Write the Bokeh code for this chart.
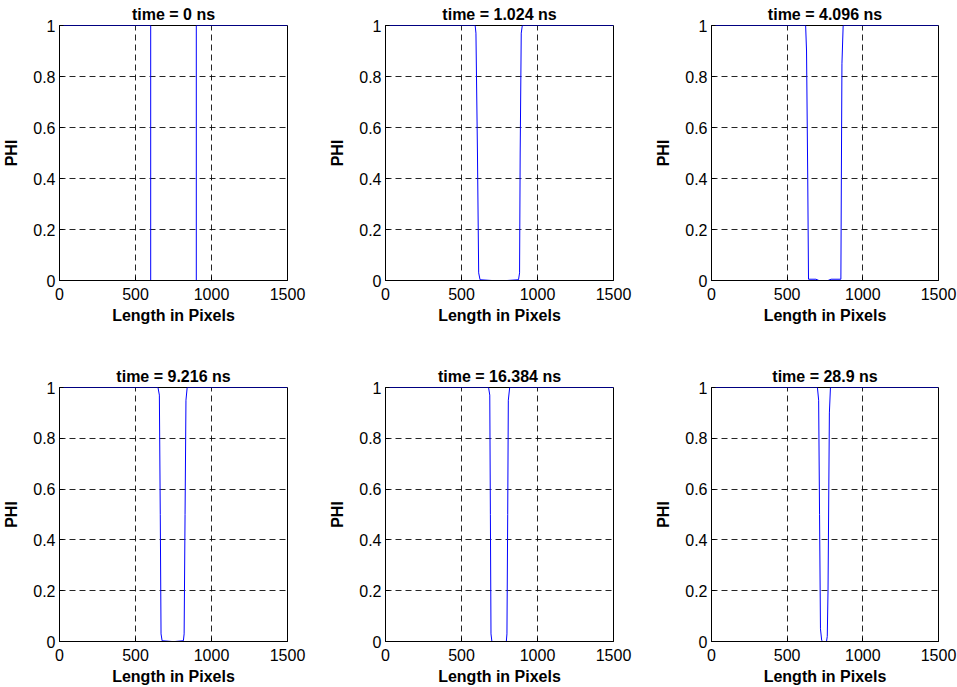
from bokeh.plotting import figure
from bokeh.layouts import column, row
from bokeh.models import Range1d, FixedTicker, CustomJSTickFormatter
from bokeh.embed import file_html
from bokeh.resources import INLINE

# ---- data -------------------------------------------------------------
titles = ["time = 0 ns", "time = 1.024 ns", "time = 4.096 ns",
          "time = 9.216 ns", "time = 16.384 ns", "time = 28.9 ns"]
x_label = "Length in Pixels"
y_label = "PHI"
x_ticks = [0, 500, 1000, 1500]
y_ticks = [0, 0.2, 0.4, 0.6, 0.8, 1]

x_t0 = [0, 600, 600, 900, 900, 1500]
phi_t0 = [1, 1, 0, 0, 1, 1]

x_t1 = [0, 590, 595, 605, 613, 622, 700, 800, 875, 882, 886, 893, 900, 1500]
phi_t1 = [1, 1, 0.97, 0.5, 0.03, 0.003, 0, 0, 0.003, 0.03, 0.5, 0.97, 1, 1]

x_t2 = [0, 622, 628, 636, 641, 690, 710, 770, 790, 855, 858, 862, 870, 1500]
phi_t2 = [1, 1, 0.9, 0.4, 0.005, 0.005, 0, 0, 0.005, 0.005, 0.4, 0.85, 1, 1]

x_t3 = [0, 648, 657, 663, 668, 675, 740, 760, 815, 820, 826, 832, 840, 1500]
phi_t3 = [1, 1, 0.97, 0.5, 0.03, 0.003, 0, 0, 0.003, 0.03, 0.5, 0.95, 1, 1]

x_t4 = [0, 678, 686, 690, 694, 700, 795, 799, 804, 808, 817, 1500]
phi_t4 = [1, 1, 0.97, 0.5, 0.03, 0, 0, 0.03, 0.5, 0.95, 1, 1]

x_t5 = [0, 700, 708, 714, 720, 728, 735, 760, 765, 770, 779, 786, 1500]
phi_t5 = [1, 1, 0.95, 0.5, 0.05, 0.005, 0, 0, 0.02, 0.2, 0.9, 1, 1]

series = [(x_t0, phi_t0), (x_t1, phi_t1), (x_t2, phi_t2),
          (x_t3, phi_t3), (x_t4, phi_t4), (x_t5, phi_t5)]

FONT = "Liberation Sans"


def make_panel(i, width, height, top, bottom, right):
    xs, ys = series[i]
    p = figure(width=width, height=height, output_backend="svg",
               toolbar_location=None, title=titles[i],
               x_range=Range1d(0, 1500), y_range=Range1d(0, 1),
               min_border_left=58, min_border_right=right,
               min_border_top=top, min_border_bottom=bottom)
    p.background_fill_color = "white"
    p.border_fill_color = "white"
    p.outline_line_color = "black"
    p.outline_line_width = 1
    p.outline_line_alpha = 1

    p.title.align = "center"
    p.title.text_font = FONT
    p.title.text_font_size = "16px"
    p.title.text_font_style = "bold"
    p.title.text_color = "black"
    p.title.standoff = 6

    for ax in (p.xaxis[0], p.yaxis[0]):
        ax.major_tick_in = 4
        ax.major_tick_out = 0
        ax.minor_tick_line_color = None
        ax.axis_line_color = "black"
        ax.major_tick_line_color = "black"
        ax.major_label_text_font = FONT
        ax.major_label_text_font_size = "16px"
        ax.major_label_text_color = "black"
        ax.axis_label_text_font = FONT
        ax.axis_label_text_font_size = "16px"
        ax.axis_label_text_font_style = "bold"
        ax.axis_label_text_color = "black"

    p.xaxis.ticker = FixedTicker(ticks=x_ticks)
    p.yaxis.ticker = FixedTicker(ticks=y_ticks)
    p.yaxis.formatter = CustomJSTickFormatter(
        code="return String(Math.round(tick*10)/10);")
    p.xaxis.axis_label = x_label
    p.yaxis.axis_label = y_label
    p.xaxis.major_label_standoff = 7
    p.xaxis.axis_label_standoff = 4
    p.yaxis.major_label_standoff = 4
    p.yaxis.axis_label_standoff = 10

    for g in (p.xgrid[0], p.ygrid[0]):
        g.grid_line_color = "black"
        g.grid_line_dash = "6 4"
        g.grid_line_width = 1
        g.grid_line_alpha = 0.85
    p.xgrid.ticker = FixedTicker(ticks=[500, 1000])
    p.ygrid.ticker = FixedTicker(ticks=[0.2, 0.4, 0.6, 0.8])

    p.line(xs, ys, line_color="#0000ff", line_width=1)
    return p


widths = [326, 326, 305]
rights = [39, 39, 19]
top_row = [make_panel(i, widths[i], 362, 20, 82, rights[i]) for i in range(3)]
bot_row = [make_panel(i + 3, widths[i], 325, 20, 45, rights[i]) for i in range(3)]

layout = column(row(*top_row, spacing=0), row(*bot_row, spacing=0), spacing=0)

open("out.html", "w").write(file_html(layout, INLINE))
